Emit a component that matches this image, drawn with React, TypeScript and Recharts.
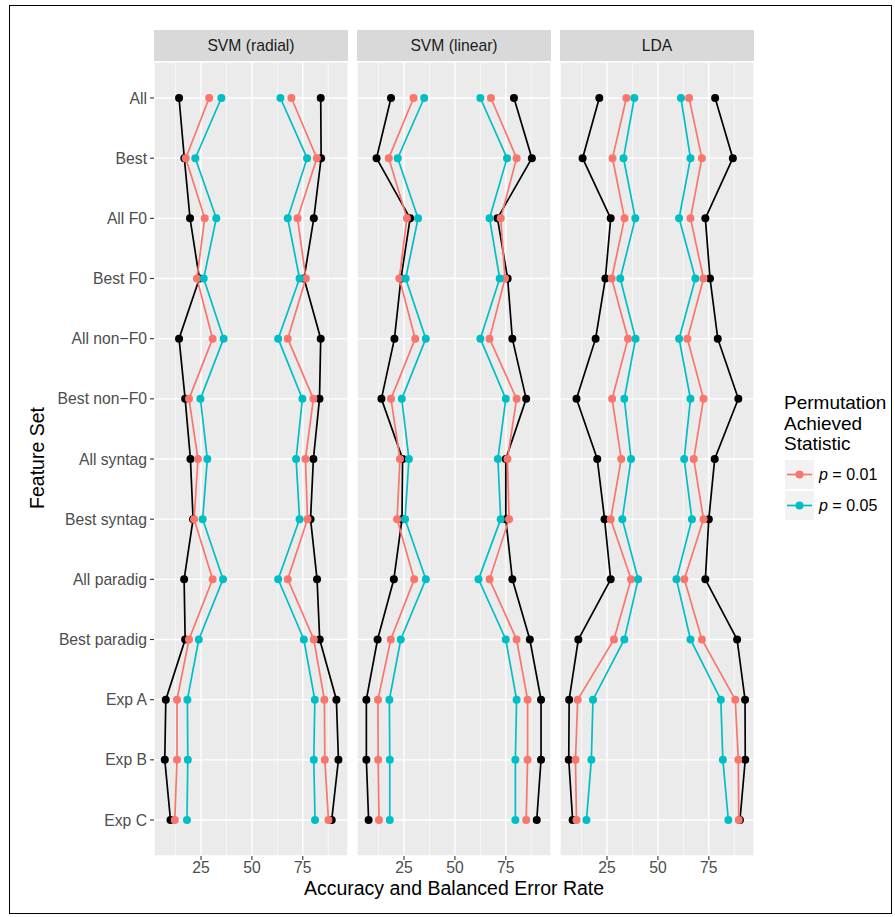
import React from "react";
import { LineChart, Line, XAxis, YAxis, CartesianGrid, ReferenceLine } from "recharts";

const categories = [
  "All", "Best", "All F0", "Best F0", "All non\u2212F0", "Best non\u2212F0",
  "All syntag", "Best syntag", "All paradig", "Best paradig", "Exp A", "Exp B", "Exp C",
];
const panels = ["SVM (radial)", "SVM (linear)", "LDA"];
const xTicks = [25, 50, 75];
const xMinor = [12.5, 37.5, 62.5, 87.5];
const xDomain = [1.9, 97.2];

// SVM (radial)
const radialErrBlack = [14.2, 16.8, 19.6, 24.2, 14.2, 17.2, 19.8, 21.1, 16.7, 17.2, 7.7, 7.2, 10.0];
const radialErrRed = [29.0, 17.5, 26.8, 23.0, 30.7, 19.1, 23.5, 21.6, 30.7, 19.1, 13.2, 13.2, 12.1];
const radialErrCyan = [35.0, 22.2, 32.5, 26.3, 36.1, 24.7, 28.1, 25.8, 35.8, 23.9, 18.3, 18.5, 18.1];
const radialAccCyan = [64.0, 77.1, 67.6, 73.4, 62.9, 74.8, 71.7, 73.4, 62.9, 75.5, 80.9, 80.4, 81.0];
const radialAccRed = [69.4, 81.9, 72.4, 76.5, 67.6, 80.2, 76.3, 77.3, 67.6, 80.4, 85.6, 85.8, 87.6];
const radialAccBlack = [83.8, 84.0, 80.4, 75.6, 83.8, 83.2, 80.2, 78.8, 82.0, 83.3, 91.5, 92.5, 89.2];

// SVM (linear)
const linearErrBlack = [18.6, 11.5, 28.0, 23.5, 20.3, 13.9, 24.3, 24.0, 20.0, 12.0, 6.5, 6.5, 7.6];
const linearErrRed = [29.7, 17.5, 26.4, 22.7, 30.5, 18.6, 23.0, 21.6, 30.0, 18.5, 12.2, 12.3, 12.7];
const linearErrCyan = [34.9, 21.9, 31.9, 25.8, 35.7, 23.9, 27.4, 25.5, 35.7, 23.4, 17.8, 18.0, 18.0];
const linearAccCyan = [62.5, 75.6, 67.0, 72.0, 62.5, 75.0, 71.1, 72.5, 61.6, 75.0, 80.3, 79.7, 79.7];
const linearAccRed = [67.7, 80.3, 72.5, 74.6, 67.0, 80.3, 75.8, 76.6, 67.0, 80.3, 85.7, 85.7, 85.0];
const linearAccBlack = [79.0, 87.8, 70.9, 75.9, 78.2, 85.0, 75.0, 75.0, 78.2, 86.8, 92.3, 92.3, 90.2];

// LDA
const ldaErrBlack = [21.2, 13.0, 26.8, 24.2, 19.4, 10.0, 20.2, 23.8, 26.8, 10.9, 6.4, 6.2, 8.1];
const ldaErrRed = [34.5, 27.7, 33.6, 27.3, 35.3, 27.5, 32.0, 26.8, 36.8, 28.4, 10.6, 9.5, 10.0];
const ldaErrCyan = [38.4, 33.1, 38.9, 31.5, 39.0, 33.5, 36.8, 32.5, 40.3, 33.5, 18.1, 17.3, 14.9];
const ldaAccCyan = [61.3, 66.0, 60.4, 68.4, 60.4, 66.0, 62.9, 66.7, 59.1, 66.0, 80.9, 81.9, 84.6];
const ldaAccRed = [65.3, 71.6, 66.0, 72.4, 64.5, 72.4, 67.6, 72.4, 63.0, 71.6, 88.0, 89.5, 89.7];
const ldaAccBlack = [78.1, 86.8, 73.3, 75.6, 79.4, 89.5, 77.9, 75.0, 73.3, 88.9, 92.8, 92.9, 90.3];

const legendItems = ["0.01", "0.05"];

const RED = "#F8766D";
const CYAN = "#00BFC4";
const BLACK = "#000000";
const FONT = "'Liberation Sans', Arial, Helvetica, sans-serif";

function build(eb: number[], er: number[], ec: number[], ac: number[], ar: number[], ab: number[]) {
  return categories.map((name, i) => ({
    name, eb: eb[i], er: er[i], ec: ec[i], ac: ac[i], ar: ar[i], ab: ab[i],
  }));
}

const panelData = [
  build(radialErrBlack, radialErrRed, radialErrCyan, radialAccCyan, radialAccRed, radialAccBlack),
  build(linearErrBlack, linearErrRed, linearErrCyan, linearAccCyan, linearAccRed, linearAccBlack),
  build(ldaErrBlack, ldaErrRed, ldaErrCyan, ldaAccCyan, ldaAccRed, ldaAccBlack),
];

const series = [
  { key: "eb", color: BLACK },
  { key: "ab", color: BLACK },
  { key: "er", color: RED },
  { key: "ar", color: RED },
  { key: "ec", color: CYAN },
  { key: "ac", color: CYAN },
];

const PLOT_TOP = 62;
const PLOT_BOTTOM = 856;
const AXIS_H = 26;
const panelX = [154, 357, 560];
const PANEL_W = 194;
const STRIP_TOP = 30;

function Panel({ idx }: { idx: number }) {
  const showY = idx === 0;
  const yW = showY ? panelX[0] : 0;
  const left = showY ? 0 : panelX[idx];
  const width = PANEL_W + yW;
  const height = PLOT_BOTTOM - PLOT_TOP + AXIS_H;
  return (
    <div style={{ position: "absolute", left, top: PLOT_TOP }}>
      <LineChart
        width={width}
        height={height}
        data={panelData[idx]}
        layout="vertical"
        margin={{ top: 0, right: 0, bottom: 0, left: 0 }}
      >
        <CartesianGrid fill="#EBEBEB" stroke="#FFFFFF" strokeWidth={1.3} />
        {xMinor.map((v) => (
          <ReferenceLine key={v} x={v} stroke="#FFFFFF" strokeWidth={0.6} ifOverflow="hidden" />
        ))}
        <XAxis
          type="number"
          domain={xDomain}
          ticks={xTicks}
          allowDataOverflow
          axisLine={false}
          tickLine={{ stroke: "#333333", strokeWidth: 1.1 }}
          tickSize={4}
          tickMargin={2}
          height={AXIS_H}
          tick={{ fill: "#4D4D4D", fontSize: 15.7, fontFamily: FONT }}
        />
        <YAxis
          type="category"
          dataKey="name"
          hide={!showY}
          width={yW}
          axisLine={false}
          tickLine={{ stroke: "#333333", strokeWidth: 1.1 }}
          tickSize={4}
          tickMargin={3}
          padding={{ top: 36, bottom: 36 }}
          interval={0}
          tick={{ fill: "#4D4D4D", fontSize: 15.7, fontFamily: FONT }}
        />
        {series.map((s) => (
          <Line
            key={s.key}
            dataKey={s.key}
            stroke={s.color}
            strokeWidth={1.7}
            dot={{ r: 4, fill: s.color, stroke: "none" }}
            activeDot={false}
            isAnimationActive={false}
          />
        ))}
      </LineChart>
    </div>
  );
}

export default function App() {
  return (
    <div
      style={{
        position: "fixed", left: 0, top: 0, width: 895, height: 917,
        background: "#FFFFFF", fontFamily: FONT, overflow: "hidden",
      }}
    >
      <div
        style={{
          position: "absolute", left: 9, top: 5, width: 883, height: 909,
          border: "1px solid #000", boxSizing: "border-box",
        }}
      />
      {panels.map((p, i) => (
        <div
          key={p}
          style={{
            position: "absolute", left: panelX[i], top: STRIP_TOP, width: PANEL_W,
            height: PLOT_TOP - STRIP_TOP - 1, background: "#D9D9D9", color: "#1A1A1A",
            fontSize: 15.7, display: "flex", alignItems: "center", justifyContent: "center",
          }}
        >
          {p}
        </div>
      ))}
      {panels.map((p, i) => (
        <Panel key={p} idx={i} />
      ))}
      <div
        style={{
          position: "absolute", left: 37, top: 458, transform: "translate(-50%, -50%) rotate(-90deg)",
          fontSize: 19.5, color: "#000", whiteSpace: "nowrap",
        }}
      >
        Feature Set
      </div>
      <div
        style={{
          position: "absolute", left: 454, top: 888, transform: "translate(-50%, -50%)",
          fontSize: 19.5, color: "#000", whiteSpace: "nowrap",
        }}
      >
        Accuracy and Balanced Error Rate
      </div>
      <div
        style={{
          position: "absolute", left: 784, top: 393, fontSize: 19, lineHeight: "20.5px", color: "#000",
        }}
      >
        Permutation<br />Achieved<br />Statistic
      </div>
      {legendItems.map((v, i) => {
        const top = 460 + i * 31;
        const color = i === 0 ? RED : CYAN;
        return (
          <div key={v} style={{ position: "absolute", left: 785, top, height: 29 }}>
            <svg width={29} height={29} style={{ position: "absolute", left: 0, top: 0 }}>
              <rect x={0} y={0} width={29} height={29} fill="#F2F2F2" />
              <line x1={2} y1={14.5} x2={27} y2={14.5} stroke={color} strokeWidth={1.7} />
              <circle cx={14.5} cy={14.5} r={4} fill={color} />
            </svg>
            <div
              style={{
                position: "absolute", left: 34, top: 0, height: 29, display: "flex",
                alignItems: "center", fontSize: 16, whiteSpace: "nowrap", color: "#000",
              }}
            >
              <span style={{ fontStyle: "italic" }}>p</span>&nbsp;= {v}
            </div>
          </div>
        );
      })}
    </div>
  );
}
